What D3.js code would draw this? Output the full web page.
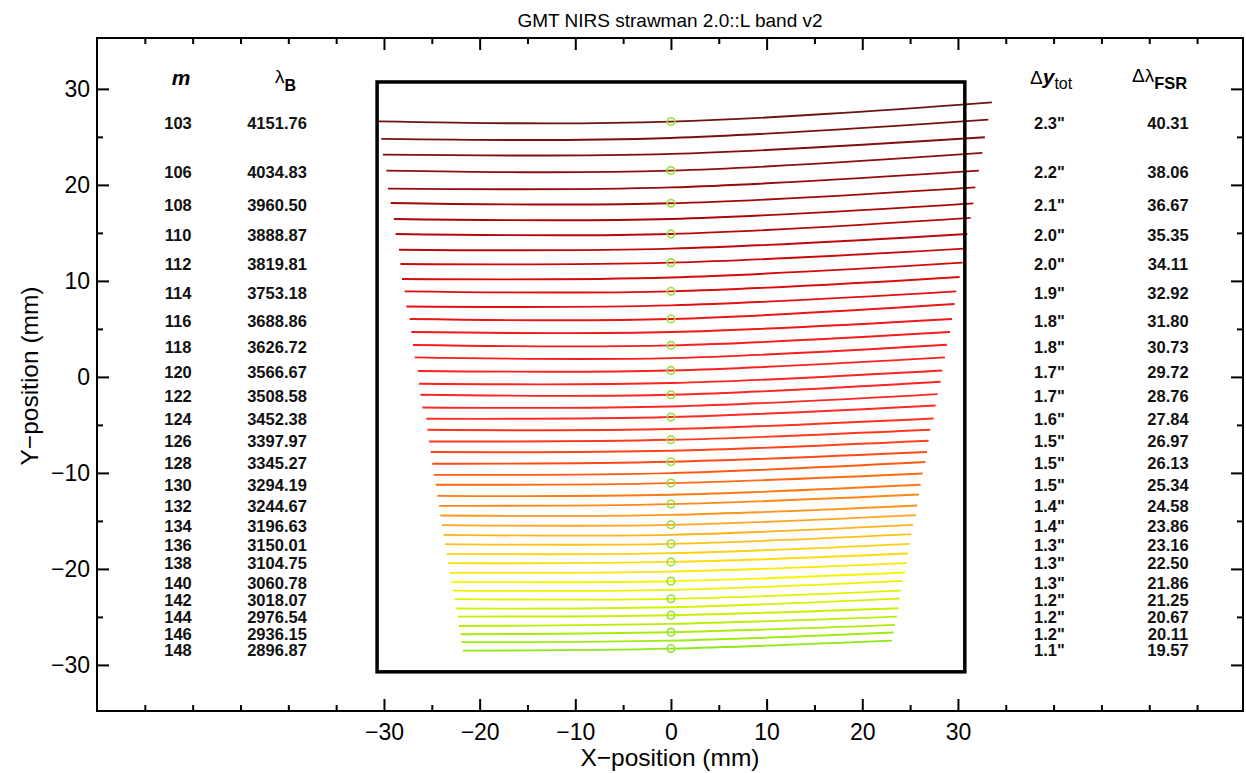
<!DOCTYPE html>
<html>
<head>
<meta charset="utf-8">
<script src="https://cdn.jsdelivr.net/npm/d3@7"></script>
<style>
  body { margin: 0; background: #fff; }
  svg { display: block; font-family: "Liberation Sans", Arial, Helvetica, sans-serif; }
  .val { font-weight: bold; font-size: 16.5px; fill: #111; }
</style>
</head>
<body>
<svg id="chart" width="1246" height="773"></svg>
<script>
// echelle orders (mm on the detector)
const orders = [103, 104, 105, 106, 107, 108, 109, 110, 111, 112, 113, 114, 115, 116, 117, 118,
  119, 120, 121, 122, 123, 124, 125, 126, 127, 128, 129, 130, 131, 132, 133, 134, 135, 136, 137,
  138, 139, 140, 141, 142, 143, 144, 145, 146, 147, 148];

const xLeft = [-30.63, -30.28, -30.11, -29.75, -29.58, -29.30, -28.96, -28.78, -28.43, -28.28,
  -28.12, -27.84, -27.66, -27.31, -27.14, -26.97, -26.79, -26.45, -26.34, -26.20, -25.99, -25.57,
  -25.46, -25.30, -25.12, -24.95, -24.78, -24.60, -24.42, -24.25, -24.11, -23.94, -23.76, -23.63,
  -23.45, -23.27, -23.13, -22.96, -22.79, -22.61, -22.44, -22.27, -22.16, -21.98, -21.91, -21.74];

const xRight = [33.55, 33.18, 32.82, 32.55, 32.19, 31.82, 31.61, 31.33, 30.98, 30.67, 30.49,
  30.18, 29.83, 29.65, 29.37, 29.16, 28.85, 28.64, 28.35, 28.19, 27.88, 27.67, 27.46, 27.11, 26.94,
  26.76, 26.59, 26.31, 26.10, 25.92, 25.76, 25.61, 25.30, 25.13, 24.95, 24.81, 24.64, 24.46, 24.25,
  24.08, 23.90, 23.77, 23.62, 23.41, 23.27, 23.10];

const yLeft = [26.62, 24.79, 23.15, 21.49, 19.61, 18.12, 16.45, 14.89, 13.25, 11.76, 10.20, 8.91,
  7.34, 6.03, 4.67, 3.32, 2.03, 0.62, -0.71, -1.86, -3.18, -4.36, -5.51, -6.73, -7.83, -9.05,
  -10.20, -11.24, -12.39, -13.43, -14.44, -15.44, -16.45, -17.42, -18.43, -19.40, -20.41, -21.35,
  -22.26, -23.15, -24.13, -24.97, -25.94, -26.80, -27.63, -28.51];

const yCenter = [26.59, 24.89, 23.23, 21.49, 19.74, 18.08, 16.45, 14.89, 13.36, 11.90, 10.36, 8.91,
  7.45, 6.03, 4.67, 3.28, 1.96, 0.67, -0.64, -1.86, -3.08, -4.18, -5.43, -6.55, -7.69, -8.84,
  -10.02, -11.06, -12.28, -13.25, -14.37, -15.41, -16.45, -17.39, -18.36, -19.27, -20.28, -21.28,
  -22.18, -23.12, -23.99, -24.82, -25.73, -26.59, -27.47, -28.30];

const yRight = [28.60, 26.80, 24.96, 23.33, 21.49, 19.74, 18.08, 16.56, 14.89, 13.36, 11.90, 10.41,
  8.91, 7.59, 6.03, 4.67, 3.35, 2.03, 0.67, -0.51, -1.79, -2.98, -4.33, -5.51, -6.65, -7.83, -8.87,
  -10.06, -11.24, -12.25, -13.40, -14.40, -15.41, -16.38, -17.39, -18.40, -19.40, -20.38, -21.25,
  -22.26, -23.09, -24.09, -24.97, -25.83, -26.63, -27.47];

// the labelled orders and their table columns
const labelOrders = [103, 106, 108, 110, 112, 114, 116, 118, 120, 122, 124, 126, 128, 130, 132,
  134, 136, 138, 140, 142, 144, 146, 148];
const lambdaB = ["4151.76", "4034.83", "3960.50", "3888.87", "3819.81", "3753.18", "3688.86",
  "3626.72", "3566.67", "3508.58", "3452.38", "3397.97", "3345.27", "3294.19", "3244.67",
  "3196.63", "3150.01", "3104.75", "3060.78", "3018.07", "2976.54", "2936.15", "2896.87"];
const dyTot = ["2.3", "2.2", "2.1", "2.0", "2.0", "1.9", "1.8", "1.8", "1.7", "1.7", "1.6", "1.5",
  "1.5", "1.5", "1.4", "1.4", "1.3", "1.3", "1.3", "1.2", "1.2", "1.2", "1.1"];
const dlFSR = ["40.31", "38.06", "36.67", "35.35", "34.11", "32.92", "31.80", "30.73", "29.72",
  "28.76", "27.84", "26.97", "26.13", "25.34", "24.58", "23.86", "23.16", "22.50", "21.86",
  "21.25", "20.67", "20.11", "19.57"];

const majorTicks = [-30, -20, -10, 0, 10, 20, 30];
const detectorHalf = 30.72;

const svg = d3.select('#chart');

const x = d3.scaleLinear().domain([-60, 59.8]).range([97, 1243]);
const y = d3.scaleLinear().domain([-34.8, 35.3]).range([711, 38]);

const color = d3.scaleLinear()
  .domain([103, 108, 113, 118, 124, 128, 131, 134, 137, 140, 144, 148])
  .range(['#6e1414', '#a00808', '#d40a0a', '#f81c1c', '#ff2a24', '#ff4a14', '#ff7a14',
    '#ffa420', '#ffd010', '#f8f400', '#c8f000', '#90e818']);

// minor ticks every 5, skipping the labelled ones
const minorX = d3.range(-55, 56, 5).filter(v => !majorTicks.includes(v));
const minorY = d3.range(-30, 31, 5).filter(v => !majorTicks.includes(v));

function styleAxis(g, fs) {
  g.select('.domain').remove();
  g.selectAll('.tick line').attr('stroke', '#000').attr('stroke-width', 2);
  g.selectAll('.tick text').attr('font-size', fs).attr('fill', '#000')
    .attr('font-family', '"Liberation Sans", Arial, sans-serif');
}

// bottom
svg.append('g').attr('transform', `translate(0,${y.range()[0]})`)
  .call(d3.axisBottom(x).tickValues(minorX).tickSize(-6).tickFormat(''))
  .call(g => styleAxis(g, 0));
svg.append('g').attr('transform', `translate(0,${y.range()[0]})`)
  .call(d3.axisBottom(x).tickValues(majorTicks).tickSize(-12).tickPadding(13).tickFormat(d3.format('d')))
  .call(g => styleAxis(g, 23));
// top
svg.append('g').attr('transform', `translate(0,${y.range()[1]})`)
  .call(d3.axisTop(x).tickValues(minorX).tickSize(-6).tickFormat(''))
  .call(g => styleAxis(g, 0));
svg.append('g').attr('transform', `translate(0,${y.range()[1]})`)
  .call(d3.axisTop(x).tickValues(majorTicks).tickSize(-12).tickFormat(''))
  .call(g => styleAxis(g, 0));
// left
svg.append('g').attr('transform', `translate(${x.range()[0]},0)`)
  .call(d3.axisLeft(y).tickValues(minorY).tickSize(-6).tickFormat(''))
  .call(g => styleAxis(g, 0));
svg.append('g').attr('transform', `translate(${x.range()[0]},0)`)
  .call(d3.axisLeft(y).tickValues(majorTicks).tickSize(-12).tickPadding(7).tickFormat(d3.format('d')))
  .call(g => styleAxis(g, 23));
// right
svg.append('g').attr('transform', `translate(${x.range()[1]},0)`)
  .call(d3.axisRight(y).tickValues(minorY).tickSize(-6).tickFormat(''))
  .call(g => styleAxis(g, 0));
svg.append('g').attr('transform', `translate(${x.range()[1]},0)`)
  .call(d3.axisRight(y).tickValues(majorTicks).tickSize(-12).tickFormat(''))
  .call(g => styleAxis(g, 0));

// plot frame
svg.append('rect')
  .attr('x', x.range()[0]).attr('y', y.range()[1])
  .attr('width', x.range()[1] - x.range()[0]).attr('height', y.range()[0] - y.range()[1])
  .attr('fill', 'none').attr('stroke', '#000').attr('stroke-width', 2);

// order traces
const line = d3.line().x(d => x(d[0])).y(d => y(d[1])).curve(d3.curveNatural);
svg.append('g').selectAll('path')
  .data(orders)
  .join('path')
  .attr('d', (m, i) => line([[xLeft[i], yLeft[i]], [0, yCenter[i]], [xRight[i], yRight[i]]]))
  .attr('fill', 'none')
  .attr('stroke', m => color(m))
  .attr('stroke-width', 1.9);

// detector outline
svg.append('rect')
  .attr('x', x(-detectorHalf)).attr('y', y(detectorHalf))
  .attr('width', x(detectorHalf) - x(-detectorHalf))
  .attr('height', y(-detectorHalf) - y(detectorHalf))
  .attr('fill', 'none').attr('stroke', '#000').attr('stroke-width', 3.5);

// blaze markers
const yOf = m => yCenter[orders.indexOf(m)];
svg.append('g').selectAll('circle')
  .data(labelOrders)
  .join('circle')
  .attr('cx', x(0)).attr('cy', m => y(yOf(m)))
  .attr('r', 3.8)
  .attr('fill', 'none').attr('stroke', '#98e23a').attr('stroke-width', 1.6);

// table columns
const rows = svg.append('g').selectAll('g')
  .data(labelOrders)
  .join('g')
  .attr('transform', m => `translate(0,${y(yOf(m)) + 1.5})`);
rows.append('text').attr('class', 'val').attr('x', 178).attr('text-anchor', 'middle')
  .attr('dominant-baseline', 'central').text(m => m);
rows.append('text').attr('class', 'val').attr('x', 277).attr('text-anchor', 'middle')
  .attr('dominant-baseline', 'central').text((m, i) => lambdaB[i]);
rows.append('text').attr('class', 'val').attr('x', 1034).attr('text-anchor', 'start')
  .attr('dominant-baseline', 'central').text((m, i) => dyTot[i] + '"');
rows.append('text').attr('class', 'val').attr('x', 1168).attr('text-anchor', 'middle')
  .attr('dominant-baseline', 'central').text((m, i) => dlFSR[i]);

// column headers
svg.append('text').attr('x', 181).attr('y', 85).attr('text-anchor', 'middle')
  .attr('font-size', 21).attr('font-weight', 'bold').attr('font-style', 'italic').text('m');
const hLam = svg.append('text').attr('x', 275).attr('y', 83);
hLam.append('tspan').attr('font-size', 19).text('λ');
hLam.append('tspan').attr('font-size', 16).attr('font-weight', 'bold').attr('dy', 8).text('B');
const hDy = svg.append('text').attr('x', 1030).attr('y', 84);
hDy.append('tspan').attr('font-size', 19).text('Δ');
hDy.append('tspan').attr('font-size', 21).attr('font-weight', 'bold').attr('font-style', 'italic').text('y');
hDy.append('tspan').attr('font-size', 16).attr('dy', 5).text('tot');
const hFsr = svg.append('text').attr('x', 1132).attr('y', 82);
hFsr.append('tspan').attr('font-size', 19).text('Δλ');
hFsr.append('tspan').attr('font-size', 16.5).attr('font-weight', 'bold').attr('dy', 7).text('FSR');

// titles
svg.append('text').attr('x', 670).attr('y', 27).attr('text-anchor', 'middle')
  .attr('font-size', 19).text('GMT NIRS strawman 2.0::L band v2');
svg.append('text').attr('x', 670).attr('y', 766).attr('text-anchor', 'middle')
  .attr('font-size', 24.5).text('X−position (mm)');
svg.append('text').attr('transform', 'translate(38,376) rotate(-90)').attr('text-anchor', 'middle')
  .attr('font-size', 24.5).text('Y−position (mm)');
</script>
</body>
</html>
